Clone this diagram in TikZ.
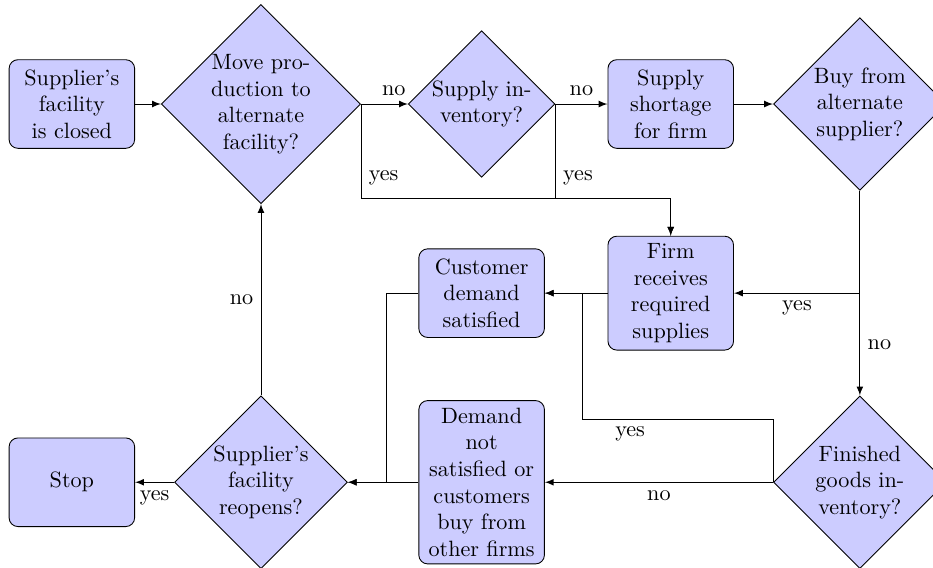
\documentclass[tikz,border=0pt]{standalone}
\usepackage{tikz}
\usetikzlibrary{shapes.geometric, arrows.meta, positioning, calc}

\begin{document}
\begin{tikzpicture}[
    block/.style={rectangle, draw, fill=blue!20, text width=5em, text centered, rounded corners, minimum height=4em},
    decision/.style={diamond, draw, fill=blue!20, text width=4.5em, text badly centered, inner sep=0pt},
    line/.style={draw, -latex}]
    \useasboundingbox (-1.14,-7.35) rectangle (13.66,1.65);
    % Top row
    \node[block] (closed) at (0,0) {Supplier's facility is closed};
    \node[decision] (move) at (3,0) {Move production to alternate facility?};
    \node[decision] (supinv) at (6.5,0) {Supply inventory?};
    \node[block] (shortage) at (9.5,0) {Supply shortage for firm};
    \node[decision] (buy) at (12.5,0) {Buy from alternate supplier?};
    
    % Middle row
    \node[block] (customer) at (6.5,-3) {Customer demand satisfied};
    \node[block] (firm) at (9.5,-3) {Firm receives required supplies};
    \coordinate (join) at (8.1,-3);
    
    % Bottom row
    \node[block] (stop) at (0,-6) {Stop};
    \node[decision] (reopens) at (3,-6) {Supplier's facility reopens?};
    \node[block] (notsat) at (6.5,-6) {Demand not satisfied or customers buy from other firms};
    \node[decision] (finished) at (12.5,-6) {Finished goods inventory?};
    
    % Arrows
    \path[line] (closed) -- (move);
    \path[line] (move) -- node[above, pos=0.7] {no} (supinv);
    \path[line] (move.east) -- node[right, pos=0.78] {yes} ++(0,-1.5) -| (firm.north);
    \path[line] (supinv) -- node[above] {no} (shortage);
    \path[line] (supinv.east) -- node[right, pos=0.78] {yes} ++(0,-1.5) -| (firm.north);
    \path[line] (shortage) -- (buy);
    \path[line] (buy.south) |- node[below, pos=0.75] {yes} (firm.east);
    \path[line] (buy) -- node[right, pos=0.75] {no} (finished);
    \path[line] (firm) -- (customer);
    \path[line] (finished) -- node[below] {no} (notsat);
    \path[line] (finished.west) -- ++(0,1) -| node[below, pos=0.375] {yes} (join) -- (customer.east);
    \path[line] (customer.west) -- ++(-0.5,0) |- (reopens.east);
    \path[line] (notsat) -- (reopens);
    \path[line] (reopens) -- node[left] {no} (move);
    \path[line] (reopens) -- node[below] {yes} (stop);
\end{tikzpicture}
\end{document}
